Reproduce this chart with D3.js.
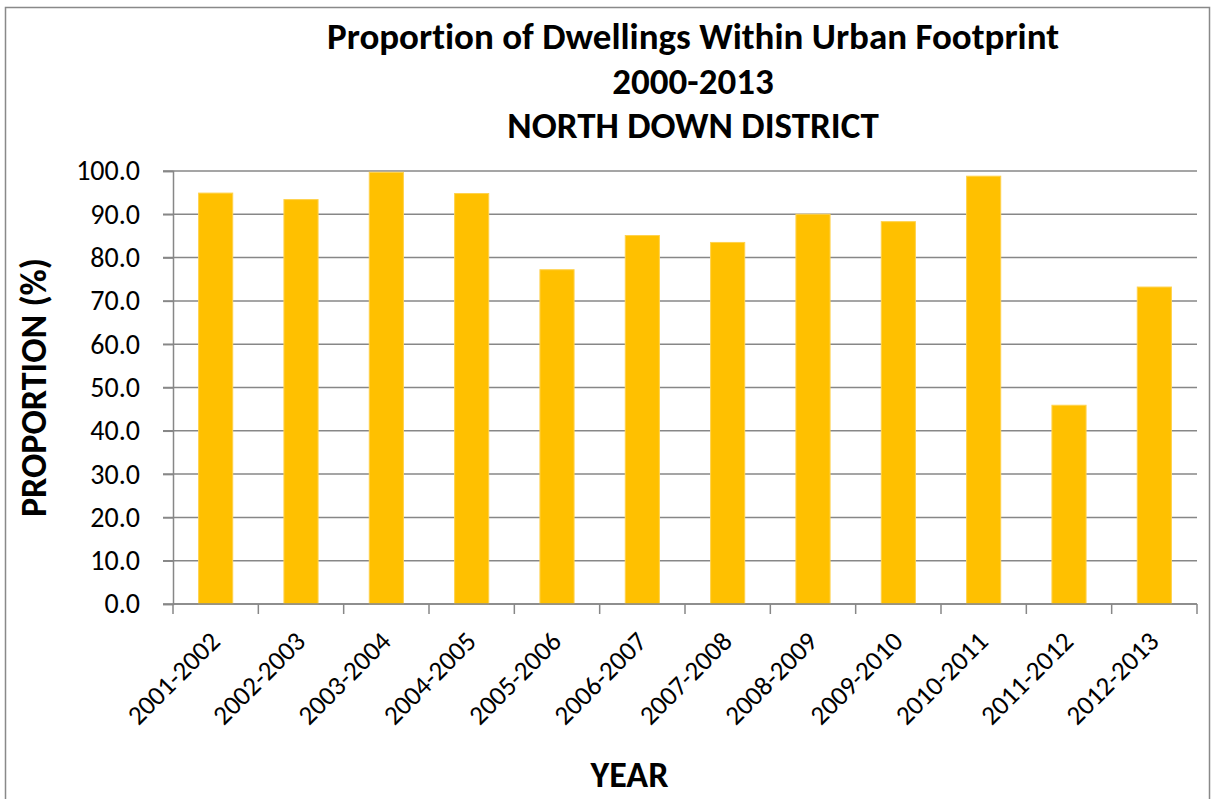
<!DOCTYPE html>
<html>
<head>
<meta charset="utf-8">
<script src="https://cdn.jsdelivr.net/npm/d3@7"></script>
<style>
  html, body { margin: 0; padding: 0; background: #fff; }
  svg { display: block; }
  text { font-family: Calibri, Carlito, Lato, sans-serif; fill: #000; font-variant-ligatures: none; font-feature-settings: "liga" 0; }
</style>
</head>
<body>
<svg id="chart" width="1215" height="799"></svg>
<script>
// Proportion of dwellings within the urban footprint, North Down District
const periods = ["2001-2002", "2002-2003", "2003-2004", "2004-2005", "2005-2006", "2006-2007",
                 "2007-2008", "2008-2009", "2009-2010", "2010-2011", "2011-2012", "2012-2013"];
const proportions = [94.9, 93.4, 99.7, 94.8, 77.2, 85.1, 83.5, 90.0, 88.3, 98.8, 45.9, 73.2];
const yTicks = [0, 10, 20, 30, 40, 50, 60, 70, 80, 90, 100];
const titleLines = ["Proportion of Dwellings Within Urban Footprint", "2000-2013", "NORTH DOWN DISTRICT"];

const svg = d3.select("#chart");
const plot = { left: 173, right: 1197, top: 171, bottom: 604 };

// Chart frame
svg.append("rect")
  .attr("x", 5.5).attr("y", 7.5)
  .attr("width", 1204).attr("height", 800)
  .attr("fill", "#fff").attr("stroke", "#898989").attr("stroke-width", 1.5);

const x = d3.scaleBand()
  .domain(periods)
  .range([plot.left, plot.right])
  .paddingInner(0.6)
  .paddingOuter(0.3);

const y = d3.scaleLinear()
  .domain([0, 100])
  .range([plot.bottom, plot.top]);

const gridColor = "#878787";

// Horizontal gridlines
svg.append("g")
  .selectAll("line")
  .data(yTicks)
  .join("line")
  .attr("x1", plot.left - 10).attr("x2", plot.right)
  .attr("y1", d => y(d)).attr("y2", d => y(d))
  .attr("stroke", gridColor).attr("stroke-width", 1.5);

// Bars
svg.append("g")
  .selectAll("rect")
  .data(proportions)
  .join("rect")
  .attr("x", (d, i) => x(periods[i]))
  .attr("width", x.bandwidth())
  .attr("y", d => y(d))
  .attr("height", d => y(0) - y(d))
  .attr("fill", "#FFC000")
  .attr("stroke", "#FFD24D").attr("stroke-width", 1);

// Y axis
const yAxis = svg.append("g")
  .attr("transform", `translate(${plot.left},0)`)
  .call(d3.axisLeft(y).tickValues(yTicks).tickFormat(d3.format(".1f")).tickSize(10).tickPadding(23));
yAxis.select(".domain").attr("stroke", gridColor).attr("stroke-width", 1.5);
yAxis.selectAll(".tick line").attr("stroke", gridColor).attr("stroke-width", 1.5);
yAxis.selectAll(".tick text").style("font-size", "28px").attr("fill", "#000");

// X axis with ticks between categories
const boundaries = d3.range(periods.length + 1).map(i => plot.left + i * (plot.right - plot.left) / periods.length);
const xAxisG = svg.append("g");
xAxisG.append("line")
  .attr("x1", plot.left).attr("x2", plot.right)
  .attr("y1", plot.bottom).attr("y2", plot.bottom)
  .attr("stroke", gridColor).attr("stroke-width", 1.5);
xAxisG.selectAll("line.tk")
  .data(boundaries)
  .join("line").attr("class", "tk")
  .attr("x1", d => d).attr("x2", d => d)
  .attr("y1", plot.bottom).attr("y2", plot.bottom + 10)
  .attr("stroke", gridColor).attr("stroke-width", 1.5);

xAxisG.selectAll("text.lbl")
  .data(periods)
  .join("text").attr("class", "lbl")
  .attr("transform", d => `translate(${x(d) + x.bandwidth() / 2 + 6},${plot.bottom + 39}) rotate(-45)`)
  .attr("text-anchor", "end")
  .style("font-size", "27px")
  .text(d => d);

// Title
svg.append("g")
  .selectAll("text")
  .data(titleLines)
  .join("text")
  .attr("x", 693)
  .attr("y", (d, i) => 49 + i * 44.5)
  .attr("text-anchor", "middle")
  .style("font-size", "37px")
  .style("font-weight", "bold")
  .text(d => d);

// Axis titles
svg.append("text")
  .attr("transform", `translate(46,${(plot.top + plot.bottom) / 2}) rotate(-90)`)
  .attr("text-anchor", "middle")
  .style("font-size", "36px")
  .style("font-weight", "bold")
  .text("PROPORTION (%)");

svg.append("text")
  .attr("x", 629.5).attr("y", 786.5)
  .attr("text-anchor", "middle")
  .style("font-size", "36px")
  .style("font-weight", "bold")
  .text("YEAR");
</script>
</body>
</html>
